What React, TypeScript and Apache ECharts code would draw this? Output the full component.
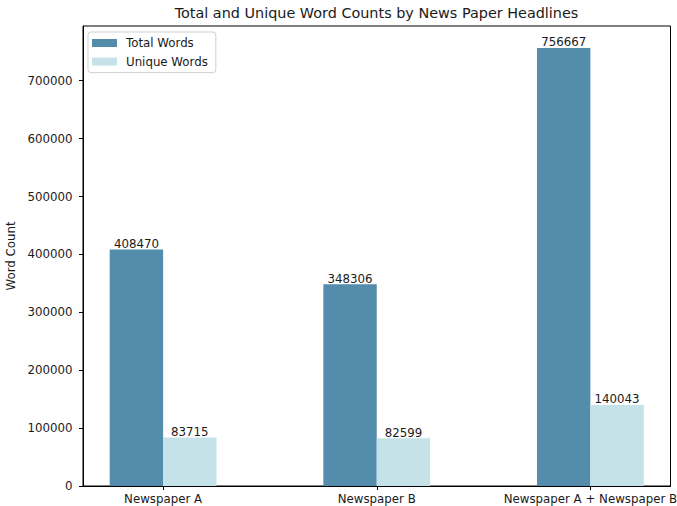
import React, { useEffect, useRef } from "react";
import * as echarts from "echarts";

const categories = ["Newspaper A", "Newspaper B", "Newspaper A + Newspaper B"];
const totalWords = [408470, 348306, 756667];
const uniqueWords = [83715, 82599, 140043];
const yTicks = [0, 100000, 200000, 300000, 400000, 500000, 600000, 700000];
const xTicks = [0, 1, 2];

const FONT = "DejaVu Sans";
const FS = 11.8;
const BAR_W = 0.25;
const TXT = "#1a1a1a";

function makeRender(offsetSide: number, color: string) {
  return (params: any, api: any) => {
    const x = api.value(0);
    const y = api.value(1);
    const x0 = offsetSide < 0 ? x - BAR_W : x;
    const x1 = offsetSide < 0 ? x : x + BAR_W;
    const p0 = api.coord([x0, y]);
    const p1 = api.coord([x1, 0]);
    return {
      type: "group",
      children: [
        {
          type: "rect",
          shape: { x: p0[0], y: p0[1], width: p1[0] - p0[0], height: p1[1] - p0[1] },
          style: { fill: color },
        },
        {
          type: "text",
          style: {
            text: String(y),
            x: (p0[0] + p1[0]) / 2,
            y: p0[1] + 0.5,
            align: "center",
            verticalAlign: "bottom",
            fontFamily: FONT,
            fontSize: FS,
            fill: TXT,
          },
        },
      ],
    };
  };
}

export default function App() {
  const ref = useRef<HTMLDivElement>(null);
  useEffect(() => {
    if (!ref.current) return;
    const chart = echarts.init(ref.current, undefined, { renderer: "svg" });
    const totalColor = "#548dab";
    const uniqueColor = "#c5e2e8";
    chart.setOption({
      animation: false,
      backgroundColor: "#fff",
      textStyle: { fontFamily: FONT },
      title: {
        text: "Total and Unique Word Counts by News Paper Headlines",
        left: 376.5,
        textAlign: "center",
        top: 6,
        padding: 0,
        textStyle: { fontFamily: FONT, fontSize: 14.4, fontWeight: "normal", color: TXT },
      },
      legend: {
        orient: "vertical",
        left: 88,
        top: 32,
        padding: [4, 8, 4, 4],
        itemWidth: 25,
        itemHeight: 8,
        itemGap: 4.6,
        icon: "rect",
        backgroundColor: "#fff",
        borderColor: "#d0d0d0",
        borderWidth: 1,
        borderRadius: 3,
        data: [
          { name: "Total Words", itemStyle: { color: totalColor } },
          { name: "Unique Words", itemStyle: { color: uniqueColor } },
        ],
        textStyle: { fontFamily: FONT, fontSize: FS, color: TXT, lineHeight: 14, padding: [0, 0, 0, 4] },
      },
      grid: {
        left: 83,
        top: 26,
        right: 6.5,
        bottom: 20,
        containLabel: false,
        outerBoundsMode: "none",
        show: true,
        borderColor: "#000",
        borderWidth: 1,
        backgroundColor: "transparent",
      },
      xAxis: {
        type: "value",
        min: -0.375,
        max: 2.375,
        splitLine: { show: false },
        axisLine: { show: true, onZero: false, lineStyle: { color: "#000" } },
        axisTick: { show: true, length: 4, customValues: xTicks, lineStyle: { color: "#000" } },
        axisLabel: {
          customValues: xTicks,
          formatter: (v: number) => categories[Math.round(v)],
          fontFamily: FONT,
          fontSize: FS,
          color: TXT,
          margin: 6.5,
          hideOverlap: false,
        },
      },
      yAxis: {
        type: "value",
        min: 0,
        max: 794500,
        name: "Word Count",
        nameLocation: "middle",
        nameRotate: 90,
        nameGap: 58,
        nameTextStyle: { fontFamily: FONT, fontSize: FS, color: TXT },
        splitLine: { show: false },
        axisLine: { show: true, onZero: false, lineStyle: { color: "#000" } },
        axisTick: { show: true, length: 4, customValues: yTicks, lineStyle: { color: "#000" } },
        axisLabel: {
          customValues: yTicks,
          formatter: (v: number) => String(v),
          fontFamily: FONT,
          fontSize: FS,
          color: TXT,
          margin: 10.5,
        },
      },
      series: [
        {
          name: "Total Words",
          type: "custom",
          itemStyle: { color: totalColor },
          data: xTicks.map((x, i) => [x, totalWords[i]]),
          renderItem: makeRender(-1, totalColor),
          clip: false,
        },
        {
          name: "Unique Words",
          type: "custom",
          itemStyle: { color: uniqueColor },
          data: xTicks.map((x, i) => [x, uniqueWords[i]]),
          renderItem: makeRender(1, uniqueColor),
          clip: false,
        },
      ],
    });
    return () => chart.dispose();
  }, []);
  return (
    <div
      ref={ref}
      style={{ position: "fixed", left: 0, top: 0, width: 677, height: 506 }}
    />
  );
}
